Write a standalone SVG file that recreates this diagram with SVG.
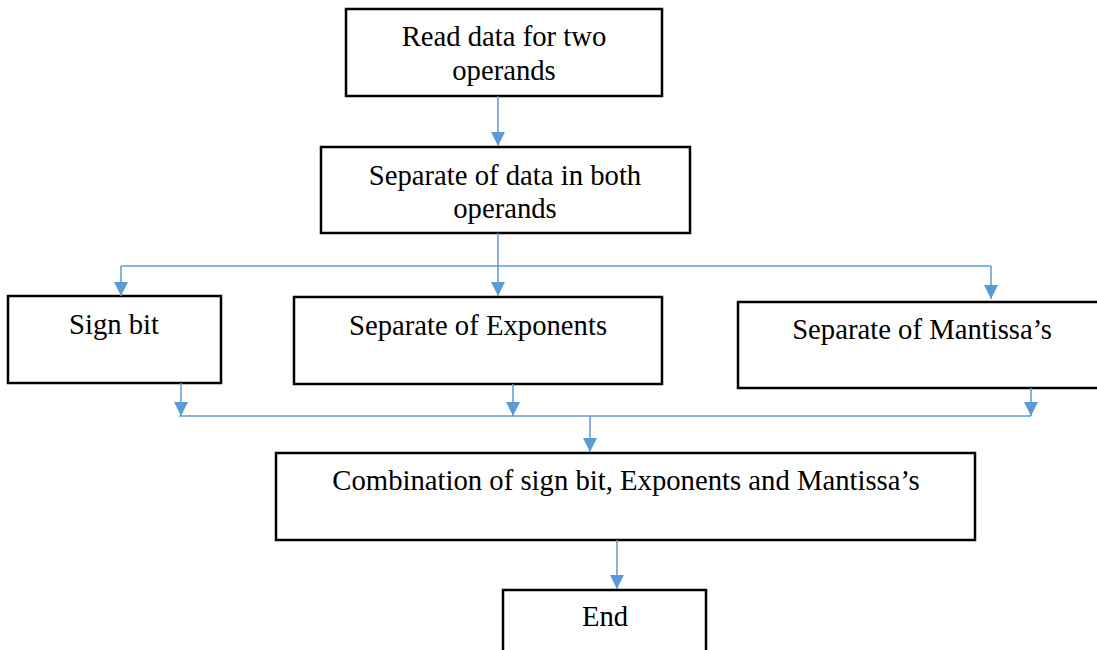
<svg xmlns="http://www.w3.org/2000/svg" width="1097" height="650" viewBox="0 0 1097 650">
<style>
.box{fill:#fff;stroke:#000;stroke-width:2.5}
.t{font-family:"Liberation Serif","Times New Roman",serif;font-size:28.7px;fill:#000;text-anchor:middle}
.c{fill:none;stroke:#5B9BD5;stroke-width:1.5}
</style>
<defs>
<marker id="a" viewBox="0 0 14 14" refX="14" refY="7" markerWidth="14" markerHeight="14" markerUnits="userSpaceOnUse" orient="auto">
<path d="M0,0 L14,7 L0,14 Z" fill="#5B9BD5"/>
</marker>
</defs>
<g id="n1"><rect class="box" x="346" y="9" width="316" height="87"/><text class="t" x="504" y="46">Read data for two</text><text class="t" x="504" y="80">operands</text></g>
<g id="n2"><rect class="box" x="321" y="147" width="369" height="86"/><text class="t" x="505" y="185">Separate of data in both</text><text class="t" x="505" y="218">operands</text></g>
<g id="n3"><rect class="box" x="8" y="296" width="213" height="87"/><text class="t" x="114" y="334">Sign bit</text></g>
<g id="n4"><rect class="box" x="294" y="297" width="368" height="87"/><text class="t" x="478" y="335">Separate of Exponents</text></g>
<g id="n5"><rect class="box" x="738" y="302" width="370" height="86"/><text class="t" x="922" y="339">Separate of Mantissa’s</text></g>
<g id="n6"><rect class="box" x="276" y="453" width="699" height="87"/><text class="t" x="626" y="490">Combination of sign bit, Exponents and Mantissa’s</text></g>
<g id="n7"><rect class="box" x="503" y="590" width="203" height="70"/><text class="t" x="605" y="626">End</text></g>
<g id="connectors">
<path class="c" d="M498,96 V146" marker-end="url(#a)"/>
<path class="c" d="M498,233 V296" marker-end="url(#a)"/>
<path class="c" d="M121,266 H991"/>
<path class="c" d="M121,266 V296" marker-end="url(#a)"/>
<path class="c" d="M991,266 V299" marker-end="url(#a)"/>
<path class="c" d="M179,416 H1031"/>
<path class="c" d="M181,383 V416" marker-end="url(#a)"/>
<path class="c" d="M513,384 V416" marker-end="url(#a)"/>
<path class="c" d="M1031,388 V416" marker-end="url(#a)"/>
<path class="c" d="M590,416 V452" marker-end="url(#a)"/>
<path class="c" d="M617,540 V589" marker-end="url(#a)"/>
</g>
</svg>
